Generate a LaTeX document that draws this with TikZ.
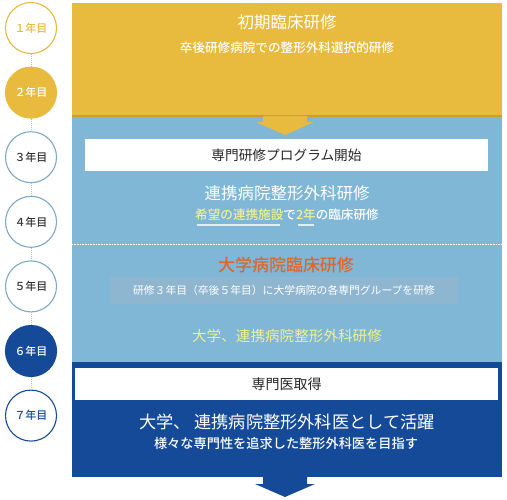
\documentclass[tikz,border=0pt]{standalone}
\usepackage{fontspec}
\setmainfont{Noto Sans CJK JP}
\newfontfamily\medium{Noto Sans CJK JP Medium}
\usetikzlibrary{positioning}
\definecolor{yel}{HTML}{E8BA3E}
\definecolor{yeldark}{HTML}{C9A033}
\definecolor{lblue}{HTML}{80B6D6}
\definecolor{dblue}{HTML}{144A98}
\definecolor{ring}{HTML}{7FA8C6}
\definecolor{orng}{HTML}{DE662B}
\definecolor{lime}{HTML}{EEF28C}
\definecolor{gbox}{HTML}{8FB6D0}
\newcommand{\fs}[1]{\fontsize{#1}{#1}\selectfont}
\tikzset{
	year/.style={circle, minimum size=51pt, inner sep=0pt, line width=1.1pt,
		fill=white, font=\medium\fs{11}},
	yearline/.style={gray!55, densely dotted, line width=1pt},
	whitebar/.style={fill=white, inner sep=0pt, font=\fs{13.7}, text=black!85},
	title/.style={text=white, font=\fs{16.5}},
	sub/.style={text=white, font=\medium\fs{12.6}}
}
\begin{document}
\begin{tikzpicture}[x=1pt, y=-1pt, node distance=12.5pt]
	\useasboundingbox (0,0) rectangle (507,499);
	% panels
	\fill[yel] (72,3) rectangle (502,116);
	\fill[lblue] (72,116) rectangle (502,362);
	\fill[dblue] (72,362) rectangle (502,477);
	\draw[yeldark, line width=1.2pt] (72,116) -- (502,116);
	\draw[white, densely dotted, line width=0.6pt] (72,244) -- (502,244);
	% arrows
	\fill[yel] (263,116) -- (307,116) -- (307,122) -- (314,122)
		-- (285,135) -- (256,122) -- (263,122) -- cycle;
	\fill[dblue] (263,476) -- (307,476) -- (307,484) -- (315,484)
		-- (285,497) -- (255,484) -- (263,484) -- cycle;

	% years
	\node[year, draw=yel, text=yel] (y1) at (31,28) {１年目};
	\node[year, draw=yel, fill=yel, text=white, below=of y1] (y2) {２年目};
	\node[year, draw=ring, text=black!80, below=of y2] (y3) {３年目};
	\node[year, draw=ring, text=black!80, below=of y3] (y4) {４年目};
	\node[year, draw=ring, text=black!80, below=of y4] (y5) {５年目};
	\node[year, draw=dblue, fill=dblue, text=white, below=of y5] (y6) {６年目};
	\node[year, draw=dblue, text=dblue, below=of y6] (y7) {７年目};
	\draw[yearline] (y1) -- (y2);
	\draw[yearline] (y2) -- (y3);
	\draw[yearline] (y3) -- (y4);
	\draw[yearline] (y4) -- (y5);
	\draw[yearline] (y5) -- (y6);
	\draw[yearline] (y6) -- (y7);

	% first stage
	\node[title] (shoki) at (287,22) {初期臨床研修};
	\node[sub] (shokisub) at (287,48) {卒後研修病院での整形外科選択的研修};

	% second stage
	\node[whitebar, minimum width=403pt, minimum height=32pt] (start) at (286.5,155) {専門研修プログラム開始};
	\node[title] (renkei) at (287,193) {連携病院整形外科研修};
	\node[sub] (renkeisub) at (287,215)
		{\textcolor{lime}{希望の連携施設}で\textcolor{lime}{2年}の臨床研修};
	\draw[white!75!lblue, line width=1.4pt] (197,225) -- (280,225);
	\draw[white!75!lblue, line width=1.4pt] (298,225) -- (314,225);

	\node[title, text=orng, font=\medium\fs{17}] (daigaku) at (286,265) {大学病院臨床研修};
	\node[fill=gbox, minimum width=348pt, minimum height=27pt, inner sep=0pt,
		text=white, font=\fs{10.8}] (group) at (284,290.5)
		{研修３年目（卒後５年目）に大学病院の各専門グループを研修};
	\node[title, text=lime, font=\fs{14.6}] (both) at (287,336) {大学、連携病院整形外科研修};

	% specialist
	\node[whitebar, font=\fs{14}, minimum width=423pt, minimum height=32pt] (senmon) at (286.5,384) {専門医取得};
	\node[title, font=\fs{17.2}] (katsuyaku) at (287,422) {大学、 連携病院整形外科医として活躍};
	\node[sub, font=\medium\fs{13.2}] (mezasu) at (286,444) {様々な専門性を追求した整形外科医を目指す};
\end{tikzpicture}
\end{document}
